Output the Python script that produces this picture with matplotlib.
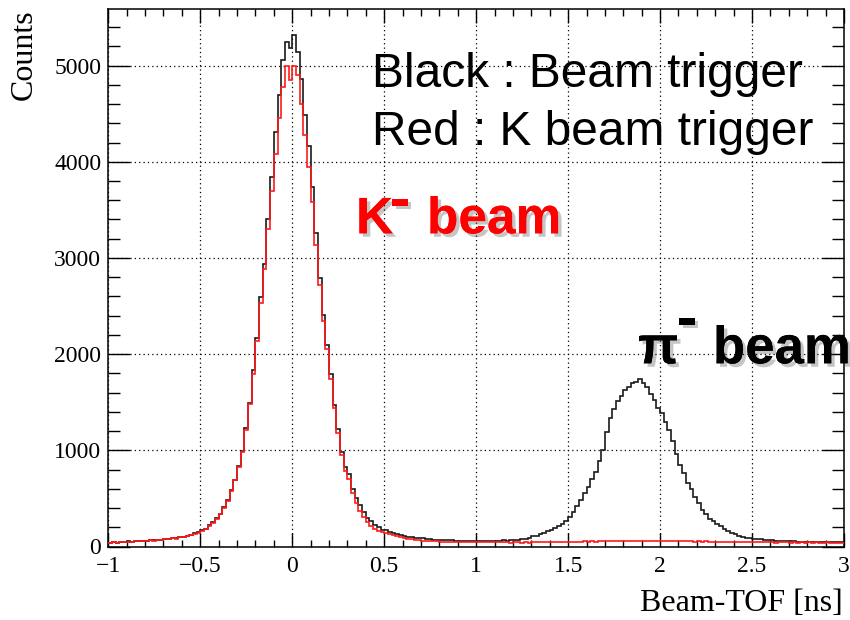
import numpy as np
import matplotlib
matplotlib.use("Agg")
import matplotlib.pyplot as plt
from matplotlib import patheffects
from matplotlib.ticker import MultipleLocator

# Beam-TOF histogram, 200 bins from -1 to 3 ns
x_range = (-1.0, 3.0)

# counts per bin, Beam trigger
beam_counts = [
    38, 45, 41, 48, 46, 52, 50, 56, 53, 61, 58, 66, 63, 72, 69, 79, 77, 88, 86, 98, 103, 114, 121, 138, 149,
    168, 186, 224, 252, 298, 341, 415, 486, 585, 695, 835, 995, 1235, 1495, 1830, 2170, 2590, 2940, 3410, 3840, 4310, 4690, 5060, 5250, 5180,
    5322, 5140, 4860, 4490, 4160, 3740, 3260, 2790, 2410, 2090, 1790, 1470, 1225, 985, 825, 755, 600, 505, 428, 362, 298, 262, 222, 204, 176,
    167, 150, 142, 126, 118, 106, 103, 95, 92, 85, 84, 78, 77, 71, 72, 66, 67, 63, 64, 59, 61, 57, 59, 56, 58,
    56, 58, 55, 59, 57, 61, 59, 63, 62, 67, 65, 69, 74, 83, 90, 104, 110, 127, 138, 157, 168, 192, 208, 238, 262,
    310, 356, 424, 486, 556, 615, 706, 776, 884, 1005, 1195, 1335, 1425, 1515, 1565, 1625, 1655, 1705, 1715, 1741, 1705, 1655, 1585, 1525, 1445,
    1385, 1295, 1215, 1095, 965, 845, 765, 665, 595, 512, 448, 382, 334, 288, 262, 232, 208, 178, 162, 140, 127, 108, 102, 91, 89,
    83, 81, 74, 71, 66, 65, 60, 60, 56, 56, 52, 53, 50, 51, 48, 49, 47, 48, 45, 47, 44, 46, 43, 45, 42,
]

# counts per bin, K beam trigger
kbeam_counts = [
    36, 43, 40, 46, 45, 50, 48, 54, 52, 58, 57, 63, 61, 69, 67, 76, 74, 85, 83, 95, 99, 110, 118, 133, 145,
    160, 182, 216, 248, 290, 338, 402, 478, 572, 688, 822, 985, 1212, 1478, 1792, 2138, 2532, 2884, 3302, 3698, 4082, 4452, 4782, 4992, 4850,
    4995, 4900, 4600, 4280, 3950, 3580, 3130, 2720, 2340, 2050, 1740, 1440, 1180, 950, 780, 700, 560, 455, 370, 305, 255, 215, 180, 165, 152,
    140, 128, 117, 106, 96, 88, 81, 74, 68, 64, 61, 58, 56, 55, 52, 51, 50, 49, 49, 48, 47, 48, 46, 47, 46,
    46, 44, 45, 43, 46, 44, 42, 45, 43, 41, 44, 42, 40, 43, 41, 44, 42, 45, 43, 46, 44, 47, 45, 48, 46,
    48, 46, 50, 48, 52, 49, 53, 51, 55, 52, 56, 54, 57, 55, 58, 56, 59, 57, 58, 60, 57, 59, 56, 58, 57,
    58, 55, 57, 54, 56, 53, 55, 52, 54, 51, 53, 50, 52, 49, 51, 48, 50, 47, 49, 46, 48, 45, 47, 44, 46,
    44, 46, 43, 45, 42, 44, 41, 43, 42, 44, 41, 43, 40, 42, 41, 43, 40, 42, 41, 40, 42, 41, 39, 41, 40,
]

x_ticks = [-1, -0.5, 0, 0.5, 1, 1.5, 2, 2.5, 3]
x_ticklabels = ['\u22121', '\u22120.5', '0', '0.5', '1', '1.5', '2', '2.5', '3']
y_ticks = [0, 1000, 2000, 3000, 4000, 5000]
y_ticklabels = ['0', '1000', '2000', '3000', '4000', '5000']

W, H = 850, 620
fig = plt.figure(figsize=(W / 100, H / 100), dpi=100)
fig.patch.set_facecolor('white')
ax = fig.add_axes([108.3 / W, 1 - 546.5 / H, (844 - 108.3) / W, (546.5 - 9) / H])

edges = np.linspace(x_range[0], x_range[1], len(beam_counts) + 1)
ax.stairs(beam_counts, edges, baseline=None, color='#1a1a1a', linewidth=1.2, zorder=3)
ax.stairs(kbeam_counts, edges, baseline=None, color='#ff1a1a', linewidth=1.2, zorder=4)

ax.set_xlim(*x_range)
ax.set_ylim(0, 1.05 * max(beam_counts))

serif = 'Liberation Serif'
ax.set_xticks(x_ticks)
ax.set_xticklabels(x_ticklabels, fontfamily=serif, fontsize=17)
ax.set_yticks(y_ticks)
ax.set_yticklabels(y_ticklabels, fontfamily=serif, fontsize=17)
ax.xaxis.set_minor_locator(MultipleLocator(0.1))
ax.yaxis.set_minor_locator(MultipleLocator(200))
ax.tick_params(direction='in', top=True, right=True, which='both', width=1.0, color='black')
ax.tick_params(axis='x', which='major', length=10, pad=7)
ax.tick_params(axis='x', which='minor', length=5)
ax.tick_params(axis='y', which='major', length=16, pad=5)
ax.tick_params(axis='y', which='minor', length=8.5)
for s in ax.spines.values():
    s.set_linewidth(1.1)

ax.grid(True, which='major', linestyle=(0, (1, 2.5)), color='black', linewidth=0.9)
ax.set_axisbelow(True)

# axis titles, ROOT style (aligned to axis ends)
fig.text(843 / W, 1 - 611 / H, 'Beam-TOF [ns]', ha='right', va='baseline',
         fontfamily=serif, fontsize=23)
fig.text(24 / W, 1 - 9 / H, 'Counts', ha='center', va='top', rotation=90,
         fontfamily=serif, fontsize=23)

sans = 'Liberation Sans'


def px_text(x, y, s, **kw):
    return fig.text(x / W, 1 - y / H, s, va='baseline', fontfamily=sans, **kw)


px_text(372, 86.7, 'Black : Beam trigger', fontsize=34.5, color='black')
px_text(372, 145, 'Red : K beam trigger', fontsize=34.5, color='black')

shadow = [patheffects.withSimplePatchShadow(offset=(2.5, -2.5), shadow_rgbFace='0.25', alpha=0.3),
          patheffects.Normal()]

# K- beam label
for x, y, s, fs in [(356, 233.3, 'K', 37), (400, 218, '-', 44), (427, 233.3, 'beam', 37)]:
    t = px_text(x, y, s, fontsize=fs, fontweight='bold', color='#ff0000',
                ha='center' if s == '-' else 'left')
    t.set_path_effects(shadow)

# pi- beam label
for x, y, s, fs in [(638, 363.3, '\u03c0', 38), (687, 337, '-', 44), (713, 363.3, 'beam', 38)]:
    t = px_text(x, y, s, fontsize=fs, fontweight='bold', color='black',
                ha='center' if s == '-' else 'left')
    t.set_path_effects(shadow)

fig.savefig('out.png', dpi=100)
